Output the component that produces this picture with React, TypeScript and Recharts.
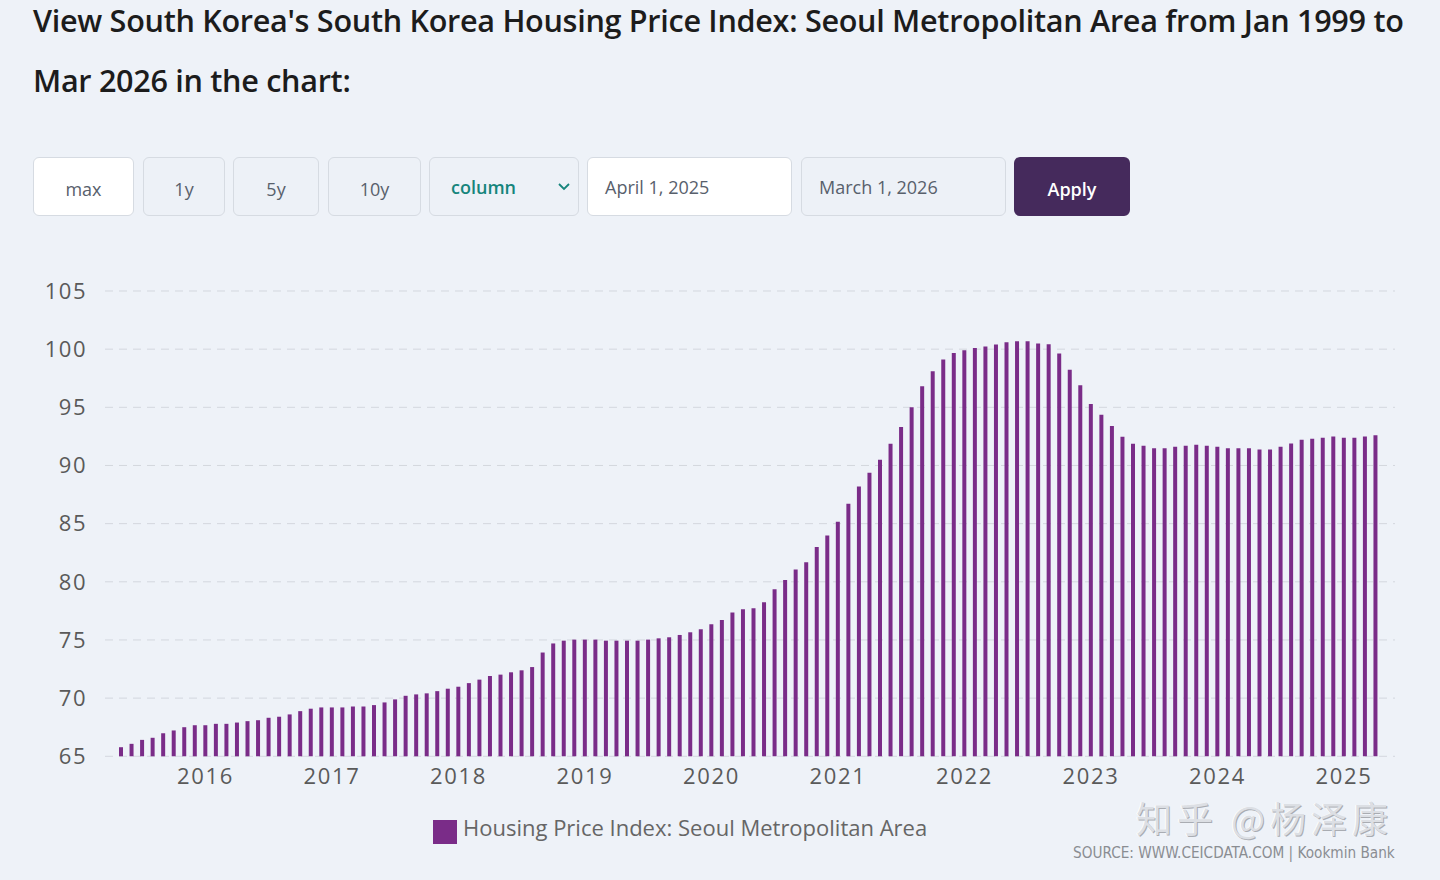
import React from 'react'
import { BarChart, Bar, XAxis, YAxis, CartesianGrid, Legend } from 'recharts'

// Monthly index values, May 2015 .. Apr 2025
const hpi2015 = [65.78, 66.07, 66.41, 66.59, 66.98, 67.22, 67.5, 67.67]
const hpi2016 = [67.67, 67.79, 67.79, 67.9, 68.02, 68.1, 68.31, 68.4, 68.6, 68.88, 69.09, 69.2]
const hpi2017 = [69.2, 69.2, 69.28, 69.28, 69.4, 69.63, 69.89, 70.2, 70.32, 70.41, 70.6, 70.81]
const hpi2018 = [70.98, 71.29, 71.59, 71.9, 72.02, 72.22, 72.39, 72.67, 73.92, 74.7, 74.94, 75.03]
const hpi2019 = [75.03, 75.03, 74.94, 74.94, 74.94, 74.94, 75.03, 75.14, 75.23, 75.43, 75.66, 75.92]
const hpi2020 = [76.35, 76.72, 77.36, 77.64, 77.73, 78.24, 79.37, 80.15, 81.06, 81.68, 82.99, 83.97]
const hpi2021 = [85.17, 86.7, 88.19, 89.37, 90.49, 91.87, 93.3, 95.0, 96.81, 98.1, 99.11, 99.68]
const hpi2022 = [99.91, 100.11, 100.23, 100.4, 100.6, 100.69, 100.69, 100.49, 100.42, 99.63, 98.22, 96.9]
const hpi2023 = [95.29, 94.37, 93.39, 92.47, 91.86, 91.69, 91.49, 91.49, 91.6, 91.69, 91.78, 91.69]
const hpi2024 = [91.6, 91.49, 91.49, 91.49, 91.38, 91.38, 91.6, 91.9, 92.21, 92.3, 92.39, 92.5]
const hpi2025 = [92.39, 92.39, 92.5, 92.59]

const years = [2015, 2016, 2017, 2018, 2019, 2020, 2021, 2022, 2023, 2024, 2025]
const yearValues = [hpi2015, hpi2016, hpi2017, hpi2018, hpi2019, hpi2020, hpi2021, hpi2022, hpi2023, hpi2024, hpi2025]
const firstMonth = [5, 1, 1, 1, 1, 1, 1, 1, 1, 1, 1]

const yTicks = [65, 70, 75, 80, 85, 90, 95, 100, 105]
const buttons = ['max', '1y', '5y', '10y']
const SERIES = 'Housing Price Index: Seoul Metropolitan Area'

const data: { month: string; value: number }[] = []
years.forEach((y, i) => {
  yearValues[i].forEach((v, j) => {
    const m = firstMonth[i] + j
    data.push({ month: `${y}-${String(m).padStart(2, '0')}`, value: v })
  })
})

const BAR = '#7a2c88'
const FONT = '"Open Sans", "Noto Sans", sans-serif'

const box: React.CSSProperties = {
  position: 'absolute',
  top: 157,
  height: 59,
  boxSizing: 'border-box',
  border: '1.5px solid #d6dbe2',
  borderRadius: 6,
  background: '#edf1f7',
  display: 'flex',
  alignItems: 'center',
  fontSize: 18,
  color: '#58606c',
  fontFamily: FONT
}

const btnPos = [
  { left: 33, width: 101, bg: '#ffffff' },
  { left: 143, width: 82 },
  { left: 233, width: 86 },
  { left: 328, width: 93 }
]

export default function App() {
  return (
    <div
      style={{
        position: 'absolute',
        left: 0,
        top: 0,
        width: 1440,
        height: 880,
        background: '#eef2f8',
        overflow: 'hidden',
        fontFamily: FONT
      }}
    >
      <div
        style={{
          position: 'absolute',
          left: 33,
          top: -10,
          fontSize: 30.6,
          fontWeight: 600,
          color: '#1c1c1c',
          lineHeight: '60px',
          whiteSpace: 'nowrap',
          letterSpacing: -0.3
        }}
      >
        View South Korea's South Korea Housing Price Index: Seoul Metropolitan Area from Jan 1999 to
        <br />
        Mar 2026 in the chart:
      </div>

      {buttons.map((b, i) => (
        <div
          key={b}
          style={{
            ...box,
            left: btnPos[i].left,
            width: btnPos[i].width,
            background: btnPos[i].bg || '#edf1f7',
            justifyContent: 'center',
            paddingTop: 4
          }}
        >
          {b}
        </div>
      ))}
      <div style={{ ...box, left: 429, width: 150, paddingLeft: 21, color: '#16857c', fontWeight: 600 }}>
        column
        <svg width="14" height="10" style={{ position: 'absolute', right: 7, top: 24 }}>
          <path d="M2 2 L7 7 L12 2" fill="none" stroke="#16857c" strokeWidth="1.8" />
        </svg>
      </div>
      <div style={{ ...box, left: 587, width: 205, paddingLeft: 17, background: '#ffffff' }}>April 1, 2025</div>
      <div style={{ ...box, left: 801, width: 205, paddingLeft: 17 }}>March 1, 2026</div>
      <div
        style={{
          ...box,
          left: 1014,
          width: 116,
          border: 'none',
          background: '#452a5c',
          color: '#ffffff',
          fontWeight: 600,
          justifyContent: 'center',
          paddingTop: 4
        }}
      >
        Apply
      </div>

      <div style={{ position: 'absolute', left: 0, top: 270 }}>
        <BarChart
          width={1440}
          height={578}
          data={data}
          margin={{ top: 21, right: 45, bottom: 0, left: 0 }}
          barCategoryGap={0}
        >
          <CartesianGrid vertical={false} stroke="#d3d7de" strokeDasharray="8 6" />
          <XAxis
            dataKey="month"
            interval={0}
            axisLine={false}
            tickLine={false}
            tickSize={0}
            tickMargin={12}
            height={60}
            padding={{ left: 11, right: 14 }}
            tick={{ fontSize: 22, fill: '#5a5a5a', letterSpacing: 1.7, fontFamily: FONT }}
            tickFormatter={(v: string) => (v.endsWith('-01') ? v.slice(0, 4) : '')}
          />
          <YAxis
            domain={[65, 105]}
            ticks={yTicks}
            width={105}
            axisLine={false}
            tickLine={false}
            tickSize={0}
            tickMargin={18}
            tick={{ fontSize: 22, fill: '#5a5a5a', letterSpacing: 1.5, fontFamily: FONT }}
          />
          <Legend
            iconType="square"
            iconSize={24}
            wrapperStyle={{ position: 'absolute', left: 433, top: 542, width: 'auto' }}
            formatter={(v: string) => (
              <span style={{ color: '#666', fontSize: 22, fontWeight: 500, fontFamily: FONT, letterSpacing: 0, marginLeft: 2 }}>{v}</span>
            )}
          />
          <Bar dataKey="value" name={SERIES} fill={BAR} barSize={4} isAnimationActive={false} />
        </BarChart>
      </div>

      <div
        style={{
          position: 'absolute',
          left: 1136,
          top: 799,
          fontSize: 36,
          lineHeight: '36px',
          color: '#dcdfe4',
          fontFamily: '"Noto Sans CJK SC", sans-serif',
          textShadow: '1px 1px 0 #a9acb2, -1px 0 0 #ffffff',
          whiteSpace: 'nowrap',
          letterSpacing: 5
        }}
      >
        知乎 @杨泽康
      </div>
      <div
        style={{
          position: 'absolute',
          left: 1073,
          top: 845,
          fontSize: 15.2,
          lineHeight: '16px',
          color: '#8a8d92',
          fontFamily: '"Liberation Sans Narrow", "DejaVu Sans Condensed", sans-serif',
          whiteSpace: 'nowrap'
        }}
      >
        SOURCE: WWW.CEICDATA.COM | Kookmin Bank
      </div>
    </div>
  )
}
